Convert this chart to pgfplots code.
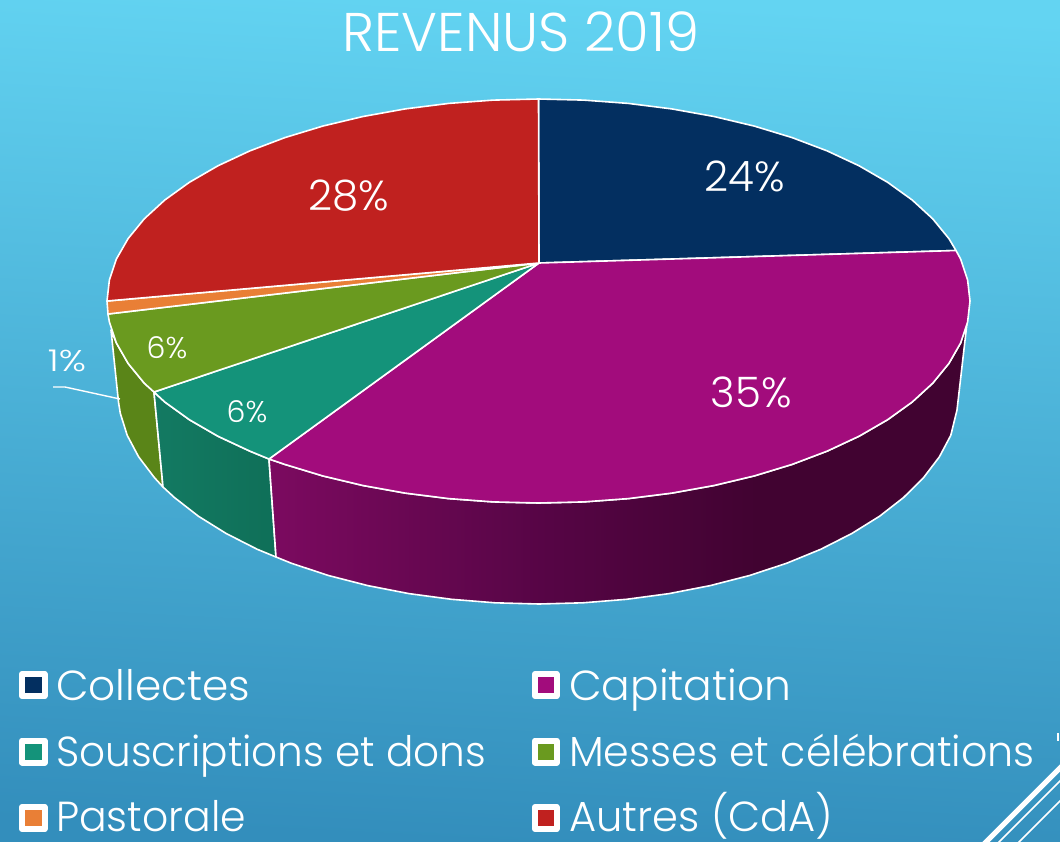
\documentclass[border=0pt]{standalone}
\usepackage{pgfplots}
\pgfplotsset{compat=1.18}
\usepackage{fontspec}
\setmainfont{Poppins}[UprightFont=* Light]
\definecolor{bgT}{HTML}{63D4F2}
\definecolor{bgB}{HTML}{338EBC}
\definecolor{cCol}{HTML}{032F60}
\definecolor{cCap}{HTML}{A20C7C}
\definecolor{cSou}{HTML}{14937A}
\definecolor{cMes}{HTML}{6A9A1F}
\definecolor{cPas}{HTML}{E97F36}
\definecolor{cAut}{HTML}{C0211F}
\definecolor{capL}{HTML}{7C0A60}
\definecolor{capM}{HTML}{560545}
\definecolor{capR}{HTML}{410331}
\definecolor{souL}{HTML}{137A62}
\definecolor{souR}{HTML}{0F6F58}
\definecolor{mesS}{HTML}{5A8518}
\pgfdeclarehorizontalshading{capside}{100bp}{color(0bp)=(capL); color(25bp)=(capL); color(45bp)=(capM); color(60bp)=(capR); color(100bp)=(capR)}
\begin{document}
\begin{tikzpicture}[x=1pt,y=1pt]
\useasboundingbox (0,0) rectangle (1060,841);
\shade[top color=bgT,bottom color=bgB,shading angle=-3] (0,0) rectangle (1060,841);
\begin{axis}[at={(0,0)},anchor=south west,scale only axis,width=1060pt,height=841pt,
  xmin=0,xmax=1060,ymin=0,ymax=841,y dir=reverse,hide axis,clip=true,
  every axis plot/.append style={no markers,line join=round}]
% side faces
\addplot[draw=white,line width=1.6pt,fill=mesS] coordinates {(111,330)(116.4,343)(128.1,363.4)(144.3,383.2)(154,392)(163,487)(154.4,477.6)(138.6,456.8)(127.2,435.3)(120.3,413.3)(118.5,402)} -- cycle;
\addplot[draw=white,line width=1.6pt,left color=souL,right color=souR] coordinates {(154,392)(164.8,402)(189.4,419.7)(217.9,436.2)(249.8,451.1)(269,459)(276,557)(257.3,549.3)(226.2,533.5)(198.4,516.2)(174.4,497.5)(163,487)} -- cycle;
\addplot[draw=white,line width=1.6pt,shading=capside,shading angle=0] coordinates {(269,459)(284.9,464.4)(322.7,475.9)(363,485.5)(405.2,493.1)(448.8,498.6)(493.4,501.9)(538.5,503)(583.6,501.9)(628.2,498.6)(671.8,493.1)(714,485.5)(754.3,475.9)(792.1,464.4)(827.2,451.1)(859.1,436.2)(887.6,419.7)(912.2,402)(932.7,383.2)(948.9,363.4)(960.6,343)(967,323)(957,410)(950.8,435.3)(939.4,456.8)(923.6,477.6)(903.6,497.5)(879.6,516.2)(851.8,533.5)(820.7,549.3)(786.5,563.3)(749.5,575.5)(710.2,585.6)(669.1,593.6)(626.5,599.3)(583,602.8)(539,604)(495,602.8)(451.5,599.3)(408.9,593.6)(367.8,585.6)(328.5,575.5)(291.5,563.3)(276,557)} -- cycle;
% top faces
\addplot[draw=white,line width=1.6pt,fill=cCol] coordinates {(539,263)(538.5,99)(583.6,100.1)(628.2,103.4)(671.8,108.9)(714,116.5)(754.3,126.1)(792.1,137.6)(827.2,150.9)(859.1,165.8)(887.6,182.3)(912.2,200)(932.7,218.8)(948.9,238.6)(956,250.5)} -- cycle;
\addplot[draw=white,line width=1.6pt,fill=cCap] coordinates {(539,263)(956,250.5)(960.6,259)(967.6,279.9)(970,301)(967.6,322.1)(960.6,343)(948.9,363.4)(932.7,383.2)(912.2,402)(887.6,419.7)(859.1,436.2)(827.2,451.1)(792.1,464.4)(754.3,475.9)(714,485.5)(671.8,493.1)(628.2,498.6)(583.6,501.9)(538.5,503)(493.4,501.9)(448.8,498.6)(405.2,493.1)(363,485.5)(322.7,475.9)(284.9,464.4)(269,459)} -- cycle;
\addplot[draw=white,line width=1.6pt,fill=cSou] coordinates {(539,263)(269,459)(249.8,451.1)(217.9,436.2)(189.4,419.7)(164.8,402)(154,392)} -- cycle;
\addplot[draw=white,line width=1.6pt,fill=cMes] coordinates {(539,263)(154,392)(144.3,383.2)(128.1,363.4)(116.4,343)(109.4,322.1)(108,314)} -- cycle;
\addplot[draw=white,line width=1.6pt,fill=cPas] coordinates {(539,263)(108,314)(107,301)} -- cycle;
\addplot[draw=white,line width=1.6pt,fill=cAut] coordinates {(539,263)(107,301)(109.4,279.9)(116.4,259)(128.1,238.6)(144.3,218.8)(164.8,200)(189.4,182.3)(217.9,165.8)(249.8,150.9)(284.9,137.6)(322.7,126.1)(363,116.5)(405.2,108.9)(448.8,103.4)(493.4,100.1)(538.5,99)} -- cycle;
% leader
\addplot[draw=white,line width=1.4pt] coordinates {(53,387)(65,387)(120,399)};
% corner stripes
\addplot[draw=white,line width=5pt] coordinates {(1075,753)(975,853)};
\addplot[draw=white,line width=1.5pt] coordinates {(1075,766)(988,853)};
\addplot[draw=white,line width=1.5pt] coordinates {(1075,786)(1008,853)};
\addplot[draw=white,line width=1.5pt] coordinates {(1058,733)(1058,741)};
% legend swatches
\addplot[draw=white,line width=6pt,fill=cCol] coordinates {(22,674)(44.5,674)(44.5,696)(22,696)} -- cycle;
\addplot[draw=white,line width=6pt,fill=cSou] coordinates {(22,740.5)(44.5,740.5)(44.5,762.5)(22,762.5)} -- cycle;
\addplot[draw=white,line width=6pt,fill=cPas] coordinates {(22,807)(44.5,807)(44.5,829)(22,829)} -- cycle;
\addplot[draw=white,line width=6pt,fill=cCap] coordinates {(535,674)(556.5,674)(556.5,696)(535,696)} -- cycle;
\addplot[draw=white,line width=6pt,fill=cMes] coordinates {(535,740.5)(556.5,740.5)(556.5,762.5)(535,762.5)} -- cycle;
\addplot[draw=white,line width=6pt,fill=cAut] coordinates {(535,807)(556.5,807)(556.5,829)(535,829)} -- cycle;
% texts
\node[text=white,inner sep=0pt,font=\fontsize{54.5}{55}\selectfont] at (axis cs:521,32) {REVENUS 2019};
\node[text=white,inner sep=0pt,font=\fontsize{42}{42}\selectfont] at (axis cs:745,176) {24\%};
\node[text=white,inner sep=0pt,font=\fontsize{42}{42}\selectfont] at (axis cs:751,392) {35\%};
\node[text=white,inner sep=0pt,font=\fontsize{42}{42}\selectfont] at (axis cs:349,196) {28\%};
\node[text=white,inner sep=0pt,font=\fontsize{30}{30}\selectfont] at (axis cs:247,412) {6\%};
\node[text=white,inner sep=0pt,font=\fontsize{30}{30}\selectfont] at (axis cs:167,348) {6\%};
\node[text=white,inner sep=0pt,font=\fontsize{30}{30}\selectfont,xscale=1.25,transform shape] at (axis cs:67,361) {1\%};
\tikzset{lg/.style={text=white,inner sep=0pt,anchor=base west,font=\fontsize{42}{42}\selectfont,transform shape}}
\node[lg,xscale=1.005] at (axis cs:56,700) {Collectes};
\node[lg,xscale=.966] at (axis cs:56,766) {Souscriptions et dons};
\node[lg,xscale=.975] at (axis cs:56,831) {Pastorale};
\node[lg,xscale=1.008] at (axis cs:569,700) {Capitation};
\node[lg,xscale=.98] at (axis cs:569,766) {Messes et célébrations};
\node[lg,xscale=.991] at (axis cs:569,831) {Autres (CdA)};
\end{axis}
\end{tikzpicture}
\end{document}
